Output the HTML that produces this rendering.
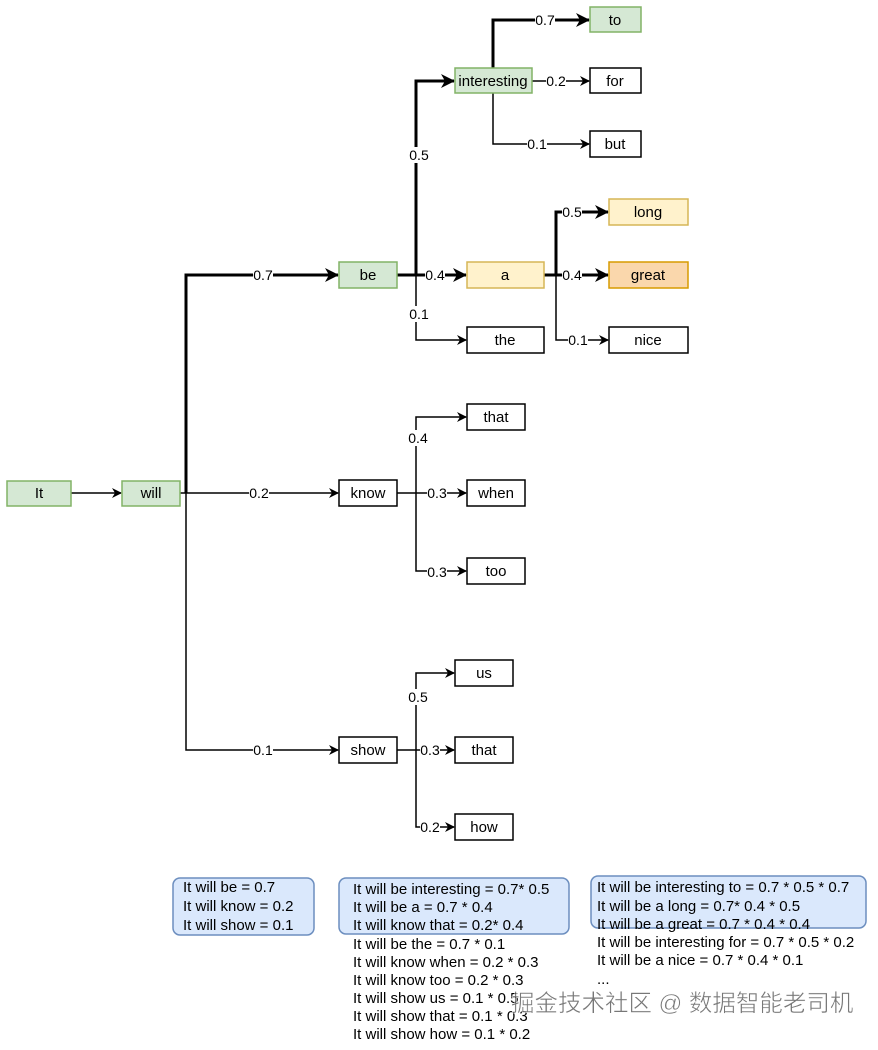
<!DOCTYPE html>
<html><head><meta charset="utf-8"><style>
body{margin:0;background:#fff}
svg text{font-family:"Liberation Sans","Noto Sans CJK SC",sans-serif;}
</style></head><body>
<svg width="878" height="1045" viewBox="0 0 878 1045" xmlns="http://www.w3.org/2000/svg">
<defs>
<marker id="a" markerWidth="10" markerHeight="10" refX="9" refY="5" orient="auto" markerUnits="userSpaceOnUse"><path d="M0,0 L10,5 L0,10 L3,5 z" fill="#000"/></marker>
<marker id="b" markerWidth="14" markerHeight="14" refX="13" refY="7" orient="auto" markerUnits="userSpaceOnUse"><path d="M0,0 L14,7 L0,14 L4,7 z" fill="#000"/></marker>
</defs>
<g fill="none" stroke="#000">
<line x1="71" y1="493" x2="121" y2="493" stroke-width="1.5" marker-end="url(#a)"/>
<line x1="180" y1="493" x2="186" y2="493" stroke-width="1.5"/>
<path d="M186,493 V275 H338" stroke-width="3" marker-end="url(#b)"/>
<path d="M186,493 H338" stroke-width="1.5" marker-end="url(#a)"/>
<path d="M186,493 V750 H338" stroke-width="1.5" marker-end="url(#a)"/>
<path d="M397,275 H416 V81 H454" stroke-width="3" marker-end="url(#b)"/>
<path d="M416,275 H466" stroke-width="3" marker-end="url(#b)"/>
<path d="M416,275 V340 H466" stroke-width="1.5" marker-end="url(#a)"/>
<path d="M493,68 V20 H589" stroke-width="3" marker-end="url(#b)"/>
<path d="M532,81 H589" stroke-width="1.5" marker-end="url(#a)"/>
<path d="M493,93 V144 H589" stroke-width="1.5" marker-end="url(#a)"/>
<path d="M544,275 H556 V212 H608" stroke-width="3" marker-end="url(#b)"/>
<path d="M556,275 H608" stroke-width="3" marker-end="url(#b)"/>
<path d="M556,275 V340 H608" stroke-width="1.5" marker-end="url(#a)"/>
<path d="M397,493 H416" stroke-width="1.5"/>
<path d="M416,493 V417 H466" stroke-width="1.5" marker-end="url(#a)"/>
<path d="M416,493 H466" stroke-width="1.5" marker-end="url(#a)"/>
<path d="M416,493 V571 H466" stroke-width="1.5" marker-end="url(#a)"/>
<path d="M397,750 H416" stroke-width="1.5"/>
<path d="M416,750 V673 H454" stroke-width="1.5" marker-end="url(#a)"/>
<path d="M416,750 H454" stroke-width="1.5" marker-end="url(#a)"/>
<path d="M416,750 V827 H454" stroke-width="1.5" marker-end="url(#a)"/>
</g>
<g font-size="14" text-anchor="middle" fill="#000">
<g fill="#fff"><rect x="253" y="267" width="20" height="16"/><rect x="249" y="485" width="20" height="16"/><rect x="253" y="742" width="20" height="16"/>
<rect x="409" y="147" width="20" height="16"/><rect x="425" y="267" width="20" height="16"/><rect x="409" y="306" width="20" height="16"/>
<rect x="535" y="12" width="20" height="16"/><rect x="546" y="73" width="20" height="16"/><rect x="527" y="136" width="20" height="16"/>
<rect x="562" y="204" width="20" height="16"/><rect x="562" y="267" width="20" height="16"/><rect x="568" y="332" width="20" height="16"/>
<rect x="408" y="430" width="20" height="16"/><rect x="427" y="485" width="20" height="16"/><rect x="427" y="564" width="20" height="16"/>
<rect x="408" y="689" width="20" height="16"/><rect x="420" y="742" width="20" height="16"/><rect x="420" y="819" width="20" height="16"/></g>
<text x="263" y="280">0.7</text><text x="259" y="498">0.2</text><text x="263" y="755">0.1</text>
<text x="419" y="160">0.5</text><text x="435" y="280">0.4</text><text x="419" y="319">0.1</text>
<text x="545" y="25">0.7</text><text x="556" y="86">0.2</text><text x="537" y="149">0.1</text>
<text x="572" y="217">0.5</text><text x="572" y="280">0.4</text><text x="578" y="345">0.1</text>
<text x="418" y="443">0.4</text><text x="437" y="498">0.3</text><text x="437" y="577">0.3</text>
<text x="418" y="702">0.5</text><text x="430" y="755">0.3</text><text x="430" y="832">0.2</text>
</g>
<g stroke-width="1.5" font-size="15" text-anchor="middle">
<g fill="#d5e8d4" stroke="#82b366">
<rect x="7" y="481" width="64" height="25"/><rect x="122" y="481" width="58" height="25"/>
<rect x="339" y="262" width="58" height="26"/><rect x="455" y="68" width="77" height="25"/>
<rect x="590" y="7" width="51" height="25"/></g>
<g fill="#fff2cc" stroke="#d6b656"><rect x="467" y="262" width="77" height="26"/><rect x="609" y="199" width="79" height="26"/></g>
<rect x="609" y="262" width="79" height="26" fill="#fad7ac" stroke="#d79b00"/>
<g fill="#fff" stroke="#000">
<rect x="590" y="68" width="51" height="25"/><rect x="590" y="131" width="51" height="26"/>
<rect x="609" y="327" width="79" height="26"/><rect x="467" y="327" width="77" height="26"/>
<rect x="467" y="404" width="58" height="26"/><rect x="467" y="480" width="58" height="26"/><rect x="467" y="558" width="58" height="26"/>
<rect x="339" y="480" width="58" height="26"/><rect x="339" y="737" width="58" height="26"/>
<rect x="455" y="660" width="58" height="26"/><rect x="455" y="737" width="58" height="26"/><rect x="455" y="814" width="58" height="26"/></g>
<g fill="#000">
<text x="39" y="498">It</text><text x="151" y="498">will</text><text x="368" y="280">be</text>
<text x="493" y="86">interesting</text><text x="615" y="25">to</text><text x="615" y="86">for</text><text x="615" y="149">but</text>
<text x="505" y="280">a</text><text x="648" y="217">long</text><text x="648" y="280">great</text><text x="648" y="345">nice</text>
<text x="505" y="345">the</text><text x="496" y="422">that</text><text x="496" y="498">when</text><text x="496" y="576">too</text>
<text x="368" y="498">know</text><text x="368" y="755">show</text>
<text x="484" y="678">us</text><text x="484" y="755">that</text><text x="484" y="832">how</text></g>
</g>
<g fill="#dae8fc" stroke="#6c8ebf" stroke-width="1.5">
<rect x="173" y="878" width="141" height="57" rx="7"/>
<rect x="339" y="878" width="230" height="56" rx="7"/>
<rect x="591" y="876" width="275" height="52" rx="7"/>
</g>
<g font-size="15" fill="#000">
<text x="183" y="892">It will be = 0.7</text><text x="183" y="911">It will know = 0.2</text><text x="183" y="930">It will show = 0.1</text>
<text x="353" y="894">It will be interesting = 0.7* 0.5</text><text x="353" y="912">It will be a = 0.7 * 0.4</text><text x="353" y="930">It will know that = 0.2* 0.4</text>
<text x="353" y="949">It will be the = 0.7 * 0.1</text><text x="353" y="967">It will know when = 0.2 * 0.3</text><text x="353" y="985">It will know too = 0.2 * 0.3</text>
<text x="353" y="1003">It will show us = 0.1 * 0.5</text><text x="353" y="1021">It will show that = 0.1 * 0.3</text><text x="353" y="1039">It will show how = 0.1 * 0.2</text>
<text x="597" y="892">It will be interesting to = 0.7 * 0.5 * 0.7</text><text x="597" y="911">It will be a long = 0.7* 0.4 * 0.5</text>
<text x="597" y="929">It will be a great = 0.7 * 0.4 * 0.4</text><text x="597" y="947">It will be interesting for = 0.7 * 0.5 * 0.2</text>
<text x="597" y="965">It will be a nice = 0.7 * 0.4 * 0.1</text><text x="597" y="984">...</text>
</g>
<text x="511" y="1011" font-size="23.5" fill="#555" fill-opacity="0.8" stroke="#fff" stroke-width="0.5">掘金技术社区 @ 数据智能老司机</text>
</svg>
</body></html>
